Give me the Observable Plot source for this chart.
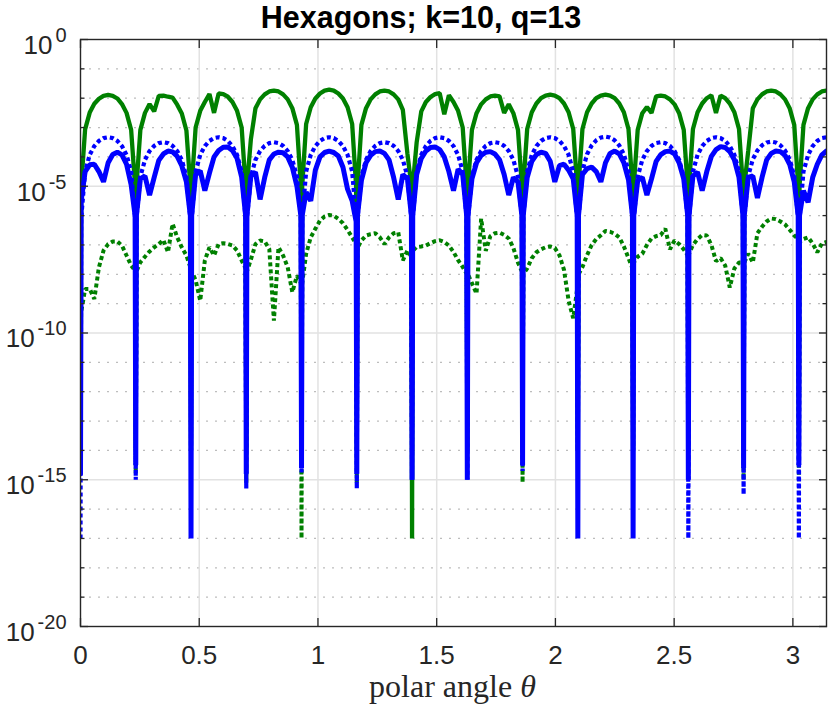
<!DOCTYPE html>
<html>
<head>
<meta charset="utf-8">
<script src="https://cdn.jsdelivr.net/npm/d3@7"></script>
<script src="https://cdn.jsdelivr.net/npm/@observablehq/plot@0.6"></script>
<style>
html, body { margin: 0; padding: 0; background: #fff; }
#chart { position: relative; width: 830px; height: 707px; }
</style>
</head>
<body>
<div id="chart"></div>
<script>
// ---- data (values are log10 of the plotted quantity) ----
// angles of the deep zeros (start of each lobe interval)
const dips = [0, 0.2327, 0.4654, 0.6981, 0.9308, 1.1636, 1.3963, 1.6290, 1.8617, 2.0944, 2.3271, 2.5598, 2.7925, 3.0252];
// sample offsets (rad) inside each interval
const offsets = [0, 0.0028, 0.0194, 0.0388, 0.0582, 0.0776, 0.0970, 0.1164, 0.1357, 0.1551, 0.1745, 0.1939, 0.2133, 0.2299];

// green solid
const greenSolid = [
  -14, -5.0, -3.06, -2.49, -2.19, -2.02, -1.92, -1.89, -1.92, -2.01, -2.2, -2.5, -3.08, -5.0,
  -14, -5.0, -3.08, -2.5, -2.2, -2.45, -1.92, -1.91, -1.95, -1.98, -2.22, -2.52, -3.1, -5.0,
  -14, -5.0, -3.0, -2.43, -2.13, -1.86, -2.5, -1.84, -1.86, -1.95, -2.13, -2.43, -3.0, -5.0,
  -14, -5.0, -3.4, -2.34, -2.04, -1.87, -1.77, -1.74, -1.77, -1.87, -2.04, -2.34, -2.91, -5.0,
  -14, -5.0, -2.88, -2.31, -2.01, -1.84, -1.74, -1.71, -1.74, -1.84, -2.01, -2.31, -2.88, -5.0,
  -14, -5.0, -2.91, -2.34, -2.04, -1.87, -1.77, -1.74, -1.77, -1.87, -2.04, -2.4, -3.9, -5.0,
  -17, -5.0, -3.5, -2.45, -2.13, -1.96, -1.86, -1.83, -2.55, -1.9, -2.13, -2.43, -3.0, -5.0,
  -14, -5.0, -3.08, -2.51, -2.21, -2.04, -1.94, -1.91, -1.94, -2.5, -2.21, -2.51, -3.08, -5.0,
  -14, -5.0, -3.05, -2.48, -2.18, -2.0, -1.91, -1.88, -1.91, -2.0, -2.18, -2.48, -3.05, -5.0,
  -14, -5.0, -3.05, -2.48, -2.18, -2.0, -1.91, -1.88, -1.91, -2.0, -2.18, -2.48, -3.05, -5.0,
  -14, -5.0, -3.08, -2.51, -2.3, -2.5, -1.94, -1.91, -1.94, -2.04, -2.21, -2.51, -3.08, -5.0,
  -14, -5.0, -3.05, -2.48, -2.18, -2.0, -1.9, -2.5, -1.91, -2.0, -2.18, -2.48, -3.05, -5.0,
  -14, -5.0, -3.8, -2.34, -2.04, -1.87, -1.77, -1.74, -1.77, -1.87, -2.04, -2.34, -2.91, -5.0,
  -14, -5.0, -2.91, -2.34, -2.04, -1.87, -1.77, -1.74
];

// green dotted
const greenDotted = [
  -14, -9.3, -8.5, -8.5, -8.84, -7.76, -7.19, -6.97, -6.88, -6.88, -7.02, -7.36, -7.7, -7.88,
  -14.8, -7.9, -7.59, -7.4, -7.22, -7.08, -6.97, -6.83, -7.25, -6.28, -6.74, -7.08, -7.36, -7.76,
  -14, -7.9, -8.2, -8.9, -7.53, -7.08, -7.36, -6.97, -6.94, -6.97, -7.02, -7.19, -7.53, -7.8,
  -15.1, -7.9, -7.5, -6.97, -6.85, -6.88, -7.14, -9.58, -7.08, -7.36, -7.76, -8.61, -8.05, -8.3,
  -17, -8.3, -7.3, -6.74, -6.45, -6.17, -6.03, -5.98, -6.0, -6.11, -6.26, -6.49, -6.74, -6.97,
  -15.1, -7.1, -6.85, -6.68, -6.63, -6.6, -6.74, -6.97, -6.74, -6.6, -6.57, -7.53, -7.19, -7.4,
  -14, -7.2, -7.07, -7.05, -7.02, -6.94, -6.87, -6.84, -6.9, -7.02, -7.24, -7.52, -7.75, -7.98,
  -14, -8.0, -8.3, -8.66, -6.1, -7.2, -6.7, -6.6, -6.58, -6.66, -6.78, -7.1, -7.6, -7.9,
  -15.1, -8.0, -7.8, -7.45, -7.25, -7.15, -7.08, -7.05, -7.1, -7.35, -7.85, -8.9, -9.5, -8.5,
  -14, -8.0, -7.75, -7.35, -7.0, -6.8, -6.67, -6.52, -6.55, -6.62, -6.74, -7.05, -7.45, -7.8,
  -14, -7.6, -7.4, -7.3, -7.0, -6.78, -6.7, -6.66, -6.45, -7.15, -6.85, -6.97, -7.15, -7.35,
  -14, -7.3, -7.0, -6.8, -6.66, -6.68, -7.0, -7.55, -7.45, -7.7, -8.45, -7.8, -7.6, -7.6,
  -15.0, -7.6, -7.3, -7.6, -6.6, -6.38, -6.2, -6.1, -6.12, -6.2, -6.3, -6.48, -6.68, -6.8,
  -15.0, -6.9, -6.8, -6.74, -6.95, -7.25, -6.95, -6.9
];

// blue dotted
const blueDotted = [
  -17, -6.1, -4.5, -3.93, -3.63, -3.455, -3.36, -3.33, -3.36, -3.455, -3.63, -3.93, -4.5, -6.1,
  -15, -6.1, -4.67, -4.1, -3.8, -3.625, -3.53, -3.5, -3.53, -3.625, -3.8, -4.1, -4.67, -6.1,
  -14, -6.1, -4.5, -3.93, -3.63, -3.455, -3.36, -3.33, -3.36, -3.455, -3.63, -3.93, -4.5, -6.1,
  -15.3, -6.1, -4.67, -4.1, -3.8, -3.625, -3.53, -3.5, -3.53, -3.625, -3.8, -4.1, -4.67, -6.1,
  -14.8, -6.1, -4.5, -3.93, -3.63, -3.455, -3.36, -3.33, -3.36, -3.455, -3.63, -3.93, -4.5, -6.1,
  -15.3, -6.1, -4.67, -4.1, -3.8, -3.625, -3.53, -3.5, -3.53, -3.625, -3.8, -4.1, -4.67, -6.1,
  -15, -6.1, -4.5, -3.93, -3.63, -3.455, -3.36, -3.33, -3.36, -3.455, -3.63, -3.93, -4.5, -6.1,
  -15, -6.1, -4.67, -4.1, -3.8, -3.625, -3.53, -3.5, -3.53, -3.625, -3.8, -4.1, -4.67, -6.1,
  -14.7, -6.1, -4.5, -3.93, -3.63, -3.455, -3.36, -3.33, -3.36, -3.455, -3.63, -3.93, -4.5, -6.1,
  -14, -6.1, -4.48, -3.91, -3.61, -3.435, -3.34, -3.31, -3.34, -3.435, -3.61, -3.91, -4.48, -6.1,
  -14, -6.1, -4.67, -4.1, -3.8, -3.625, -3.53, -3.5, -3.53, -3.625, -3.8, -4.1, -4.67, -6.1,
  -17, -6.1, -4.5, -3.93, -3.63, -3.455, -3.36, -3.33, -3.36, -3.455, -3.63, -3.93, -4.5, -6.1,
  -15.5, -6.1, -4.65, -4.08, -3.78, -3.605, -3.51, -3.48, -3.51, -3.605, -3.78, -4.08, -4.65, -6.1,
  -17, -6.1, -4.5, -3.93, -3.63, -3.455, -3.36, -3.33
];

// blue solid
const blueSolid = [
  -14.8, -5.5, -4.5, -4.27, -4.25, -4.5, -4.85, -4.2, -3.92, -3.84, -3.93, -4.25, -4.95, -6.0,
  -14.5, -6.0, -4.75, -4.65, -5.3, -4.7, -4.12, -3.9, -3.8, -3.83, -3.98, -4.3, -4.85, -6.0,
  -17, -6.0, -4.6, -4.47, -5.15, -4.55, -4.0, -3.78, -3.67, -3.66, -3.78, -4.05, -4.69, -6.0,
  -14.8, -6.0, -4.65, -4.52, -5.45, -4.7, -4.1, -3.9, -3.84, -3.86, -4.0, -4.35, -5.0, -6.0,
  -14.6, -6.0, -5.2, -5.5, -4.45, -4.0, -3.85, -3.8, -3.85, -3.97, -4.35, -5.1, -5.5, -6.2,
  -14.8, -6.0, -4.8, -4.2, -3.95, -3.82, -3.8, -3.88, -4.1, -4.7, -5.45, -4.6, -4.75, -6.0,
  -15, -6.0, -4.6, -4.05, -3.8, -3.68, -3.66, -3.75, -4.0, -4.5, -5.15, -4.42, -4.6, -6.0,
  -15, -6.0, -4.75, -4.2, -3.95, -3.84, -3.82, -3.9, -4.1, -4.6, -5.3, -4.7, -4.85, -6.0,
  -14.5, -6.0, -4.7, -4.15, -3.92, -3.84, -3.88, -4.15, -4.85, -4.3, -4.25, -4.45, -4.75, -6.0,
  -17, -6.0, -4.6, -4.4, -4.35, -4.5, -4.85, -4.2, -3.88, -3.8, -3.9, -4.2, -4.78, -6.0,
  -17, -6.0, -4.8, -4.7, -5.3, -4.75, -4.15, -3.92, -3.82, -3.8, -3.9, -4.2, -4.75, -6.0,
  -15, -6.0, -4.65, -4.52, -5.15, -4.5, -3.98, -3.75, -3.65, -3.68, -3.82, -4.1, -4.7, -6.0,
  -14.6, -6.0, -4.7, -4.65, -5.4, -4.7, -4.1, -3.88, -3.8, -3.82, -3.95, -4.25, -4.85, -6.0,
  -14.5, -6.0, -5.15, -5.55, -4.7, -4.25, -3.93, -3.8
];

const xTicks = [0, 0.5, 1, 1.5, 2, 2.5, 3];
const xGrid = [0.5, 1, 1.5, 2, 2.5, 3];
const yMajorExp = [0, -5, -10, -15, -20];
const yGridExp = [-5, -10, -15];
const yMinorExp = [-1, -2, -3, -4, -6, -7, -8, -9, -11, -12, -13, -14, -16, -17, -18, -19];
const titleText = "Hexagons; k=10, q=13";

// ---- build tables ----
function rows(values) {
  const out = [];
  let k = 0;
  for (let i = 0; i < dips.length; i++) {
    for (let j = 0; j < offsets.length && k < values.length; j++) {
      out.push({theta: dips[i] + offsets[j], v: Math.pow(10, values[k++])});
    }
  }
  return out;
}
const gs = rows(greenSolid), gd = rows(greenDotted), bd = rows(blueDotted), bs = rows(blueSolid);
const yMajor = yMajorExp.map(e => Math.pow(10, e));
const yGrid = yGridExp.map(e => Math.pow(10, e));
const yMinor = yMinorExp.map(e => Math.pow(10, e));

const AX = "#262626";
const DOT = "4 3";
const plot = Plot.plot({
  width: 830,
  height: 707,
  marginLeft: 80,
  marginRight: 4,
  marginTop: 39,
  marginBottom: 81,
  style: {fontFamily: "'Liberation Sans', Arial, Helvetica, sans-serif", fontSize: "26px", color: AX, background: "#fff", overflow: "visible"},
  x: {domain: [0, Math.PI]},
  y: {type: "log", domain: [1e-20, 1]},
  marks: [
    Plot.ruleY(yMinor, {stroke: "#bdbdbd", strokeWidth: 1.2, strokeDasharray: "2 7"}),
    Plot.ruleY(yGrid, {stroke: "#e2e2e2", strokeWidth: 1.5}),
    Plot.ruleX(xGrid, {stroke: "#e2e2e2", strokeWidth: 1.5}),
    Plot.line(gs, {x: "theta", y: "v", stroke: "#008000", strokeWidth: 4.3, strokeLinejoin: "bevel", clip: true}),
    Plot.line(gd, {x: "theta", y: "v", stroke: "#008000", strokeWidth: 4, strokeDasharray: DOT, strokeLinejoin: "bevel", clip: true}),
    Plot.line(bd, {x: "theta", y: "v", stroke: "#0000ff", strokeWidth: 4.2, strokeDasharray: DOT, strokeLinejoin: "bevel", clip: true}),
    Plot.line(bs, {x: "theta", y: "v", stroke: "#0000ff", strokeWidth: 5, strokeLinejoin: "bevel", clip: true}),
    Plot.frame({stroke: AX, strokeWidth: 1.4}),
    Plot.axisX({anchor: "bottom", ticks: xTicks, tickSize: -8, tickFormat: () => "", label: null, stroke: AX, strokeWidth: 1.3}),
    Plot.axisX({anchor: "top", ticks: xTicks, tickSize: -8, tickFormat: () => "", label: null, stroke: AX, strokeWidth: 1.3}),
    Plot.axisX({anchor: "bottom", ticks: xTicks, tickSize: 0, tickPadding: 19, tickFormat: d => String(d), label: null, fontSize: 26}),
    Plot.axisY({anchor: "left", ticks: yMajor, tickSize: -8, tickFormat: () => "", label: null, stroke: AX, strokeWidth: 1.3}),
    Plot.axisY({anchor: "left", ticks: yMinor, tickSize: -4.5, tickFormat: () => "", label: null, stroke: AX, strokeWidth: 1.3}),
    Plot.axisY({anchor: "right", ticks: yMajor, tickSize: -8, tickFormat: () => "", label: null, stroke: AX, strokeWidth: 1.3}),
    Plot.axisY({anchor: "right", ticks: yMinor, tickSize: -4.5, tickFormat: () => "", label: null, stroke: AX, strokeWidth: 1.3}),
    Plot.axisY({anchor: "left", ticks: yMajor, tickSize: 0, tickPadding: 14, tickFormat: d => "10^" + Math.round(Math.log10(d)), label: null, fontSize: 26})
  ]
});

const ns = "http://www.w3.org/2000/svg";
// make sure the dotted series (2nd and 3rd line marks) are drawn dotted
const lineGroups = plot.querySelectorAll('g[aria-label="line"]');
[1, 2].forEach(i => {
  const g = lineGroups[i];
  if (!g) return;
  g.setAttribute("stroke-dasharray", DOT);
  g.querySelectorAll("path").forEach(p => {
    p.setAttribute("stroke-dasharray", DOT);
    p.setAttribute("stroke-linecap", "butt");
    p.style.strokeDasharray = DOT;
  });
});

// superscript exponents on the y tick labels
plot.querySelectorAll("text").forEach(t => {
  const s = t.textContent;
  if (!s || s.indexOf("^") < 0) return;
  const parts = s.split("^");
  t.textContent = "";
  const a = document.createElementNS(ns, "tspan");
  a.setAttribute("dy", "6");
  a.textContent = parts[0];
  const b = document.createElementNS(ns, "tspan");
  b.setAttribute("dx", "3");
  b.setAttribute("dy", "-12");
  b.setAttribute("font-size", "20");
  b.textContent = parts[1];
  t.appendChild(a);
  t.appendChild(b);
});

// title
const title = document.createElementNS(ns, "text");
title.setAttribute("x", "421");
title.setAttribute("y", "28");
title.setAttribute("text-anchor", "middle");
title.setAttribute("font-family", "'Liberation Sans', Arial, Helvetica, sans-serif");
title.setAttribute("font-weight", "bold");
title.setAttribute("font-size", "30.5");
title.setAttribute("fill", "#000");
title.textContent = titleText;
plot.appendChild(title);

// x axis label
const xl = document.createElementNS(ns, "text");
xl.setAttribute("x", "452.5");
xl.setAttribute("y", "697");
xl.setAttribute("text-anchor", "middle");
xl.setAttribute("font-family", "'Liberation Serif', 'Times New Roman', serif");
xl.setAttribute("font-size", "32");
xl.setAttribute("fill", AX);
const xl1 = document.createElementNS(ns, "tspan");
xl1.textContent = "polar angle ";
const xl2 = document.createElementNS(ns, "tspan");
xl2.setAttribute("font-style", "italic");
xl2.textContent = "θ";
xl.appendChild(xl1);
xl.appendChild(xl2);
plot.appendChild(xl);

document.getElementById("chart").appendChild(plot);
</script>
</body>
</html>
